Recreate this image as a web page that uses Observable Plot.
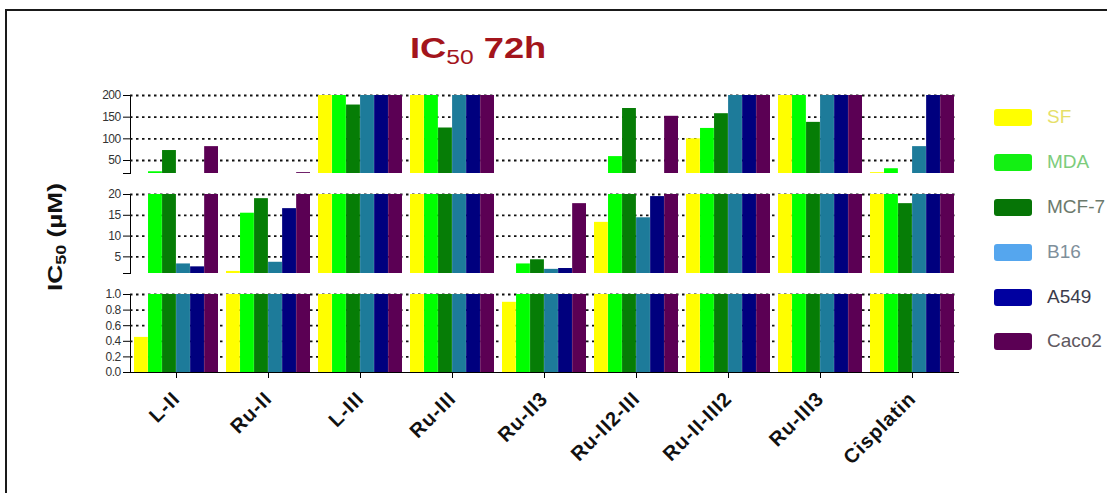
<!DOCTYPE html>
<html>
<head>
<meta charset="utf-8">
<script src="https://cdn.jsdelivr.net/npm/d3@7"></script>
<script src="https://cdn.jsdelivr.net/npm/@observablehq/plot@0.6"></script>
<style>
  html, body { margin: 0; padding: 0; background: #fff; overflow: hidden; }
  #root { position: relative; width: 1107px; height: 493px; overflow: hidden; font-family: "Liberation Sans", Arial, sans-serif; }
  #frame { position: absolute; left: 5px; top: 9px; width: 1200px; height: 600px; border-left: 2px solid #1a1a1a; border-top: 2px solid #1a1a1a; }
  .panel { position: absolute; left: 0; }
  .panel svg { overflow: visible; }
  #title { position: absolute; left: 410px; top: 32px; font-weight: bold; font-size: 29px; color: #a3151c; white-space: nowrap; transform: scaleX(1.25); transform-origin: 0 0; }
  #title sub { font-size: 68%; vertical-align: -0.3em; font-weight: normal; }
  #ytitle sub { font-size: 68%; vertical-align: -0.3em; }
  #ytitle { position: absolute; left: 56px; top: 237px; transform: translate(-50%, -50%) rotate(-90deg) scaleX(1.25); font-weight: bold; font-size: 21px; color: #111; white-space: nowrap; }
  .lg { position: absolute; left: 994px; width: 38px; height: 17px; border-radius: 3px; }
  .lt { position: absolute; left: 1047px; font-size: 19px; white-space: nowrap; transform: translateY(-50%); }
  [aria-label^="y-axis"] text { font-family: "Liberation Sans Narrow", "Liberation Sans", Arial, sans-serif; font-size: 12px; fill: #333; letter-spacing: -0.6px; }
  [aria-label^="x-axis"] text { font-family: "Liberation Sans", Arial, sans-serif; font-size: 20px; font-weight: bold; fill: #111; letter-spacing: 0.9px; }
</style>
</head>
<body>
<div id="root">
  <div id="frame"></div>
  <div id="title">IC<sub>50</sub> 72h</div>
  <div id="ytitle">IC<sub>50</sub> (µM)</div>
</div>
<script>
// ---- data ----
const categories = ["L-II", "Ru-II", "L-III", "Ru-III", "Ru-II3", "Ru-II2-III", "Ru-II-III2", "Ru-III3", "Cisplatin"];
const seriesNames = ["SF", "MDA", "MCF-7", "B16", "A549", "Caco2"];
// values in µM (values at the 200 cap are drawn at 200)
const SF    = [0.45, 1.5, 200, 200, 0.9, 13.3, 100, 200, 22];
const MDA   = [24, 15.5, 200, 200, 3.3, 59, 124, 200, 31];
const MCF7  = [73, 19, 178, 125, 4.3, 170, 158, 138, 17.8];
const B16   = [3.3, 3.7, 200, 200, 2.0, 14.4, 200, 200, 82];
const A549  = [2.6, 16.6, 200, 200, 2.2, 19.5, 200, 200, 200];
const Caco2 = [82, 22, 200, 200, 17.8, 152, 200, 200, 200];
const seriesValues = [SF, MDA, MCF7, B16, A549, Caco2];
const barColors = ["#ffff00", "#00ff00", "#067d06", "#1d7b9a", "#00007e", "#5b0054"];
const legendColors = ["#ffff00", "#13f013", "#067506", "#55a6ee", "#0000a0", "#5b0054"];
const legendTextColors = ["#e6df6a", "#7ccc7c", "#6c7a6c", "#7f8f9b", "#3c3c4c", "#5e5860"];

// segment ticks (broken y axis)
const topTicks = [20, 50, 100, 150, 200];
const midTicks = [1, 5, 10, 15, 20];
const lowTicks = [0, 0.2, 0.4, 0.6, 0.8, 1.0];

const rows = [];
seriesNames.forEach((s, i) => categories.forEach((c, j) => rows.push({cat: c, series: s, si: i, value: seriesValues[i][j]})));

const W = 1107, xLeft = 130, xRight = 958;
const padIn = 0.087, padOut = 0.033;
const band = d3.scaleBand().domain(categories).range([xLeft, xRight]).paddingInner(padIn).paddingOuter(padOut);
const bw = band.bandwidth() / seriesNames.length;

function panel({lo, hi, ticks, labelFmt, grid, top, mTop, inner, mBottom, showX}) {
  const marks = [
    Plot.ruleY(grid, {stroke: "#111", strokeWidth: 1.8, strokeDasharray: "2.5,3.5"})
  ];
  seriesNames.forEach((s, i) => {
    marks.push(Plot.barY(rows.filter(r => r.si === i), {
      x: "cat", y1: lo, y2: "value", fill: barColors[i],
      insetLeft: i * bw, insetRight: (seriesNames.length - 1 - i) * bw
    }));
  });
  const p = Plot.plot({
    width: W, height: mTop + inner + mBottom,
    marginLeft: xLeft, marginRight: W - xRight, marginTop: mTop, marginBottom: mBottom,
    x: showX ? {domain: categories, paddingInner: padIn, paddingOuter: padOut, tickRotate: -45, tickSize: 6, tickPadding: 17, label: null, line: true}
             : {domain: categories, paddingInner: padIn, paddingOuter: padOut, axis: null},
    y: {domain: [lo, hi], clamp: true, ticks: ticks, tickFormat: labelFmt, tickSize: 7, tickPadding: 3, line: true, label: null},
    marks
  });
  const wrap = document.createElement("div");
  wrap.className = "panel";
  wrap.style.top = top + "px";
  wrap.appendChild(p);
  document.getElementById("root").appendChild(wrap);
}

panel({lo: 20, hi: 200, ticks: topTicks, labelFmt: d => d === 20 ? "" : String(d), grid: [50, 100, 150, 200],
       top: 85, mTop: 10, inner: 78, mBottom: 5, showX: false});
panel({lo: 1, hi: 20, ticks: midTicks, labelFmt: d => d === 1 ? "" : String(d), grid: [5, 10, 15, 20],
       top: 184, mTop: 10, inner: 79, mBottom: 5, showX: false});
panel({lo: 0, hi: 1, ticks: lowTicks, labelFmt: d => d.toFixed(1), grid: [0.2, 0.4, 0.6, 0.8, 1.0],
       top: 284, mTop: 10, inner: 78, mBottom: 110, showX: true});

// legend
const root = document.getElementById("root");
const legendY = [117, 162, 207, 252, 297, 341];
seriesNames.forEach((s, i) => {
  const sw = document.createElement("div");
  sw.className = "lg";
  sw.style.top = (legendY[i] - 8.5) + "px";
  sw.style.background = legendColors[i];
  root.appendChild(sw);
  const t = document.createElement("div");
  t.className = "lt";
  t.style.top = legendY[i] + "px";
  t.style.color = legendTextColors[i];
  t.textContent = s;
  root.appendChild(t);
});
</script>
</body>
</html>
